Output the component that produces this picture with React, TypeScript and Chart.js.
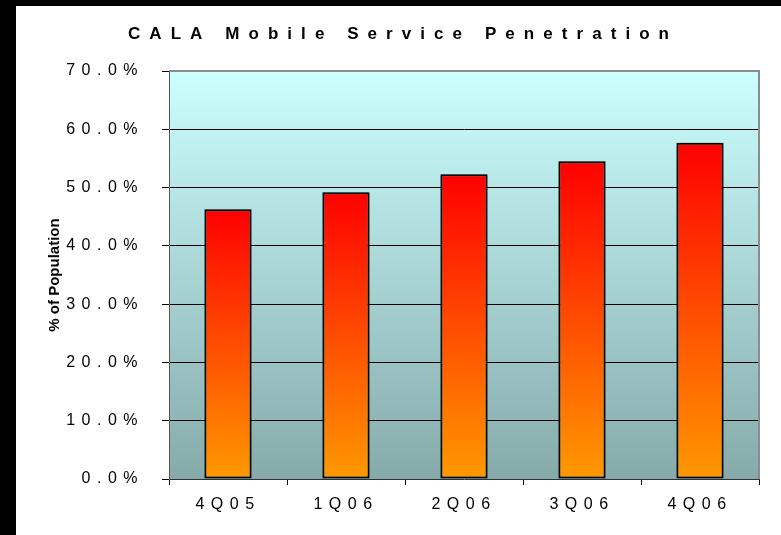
import { useEffect, useRef } from 'react';
import { Chart, registerables } from 'chart.js';

Chart.register(...registerables);

const categories = ['4Q05', '1Q06', '2Q06', '3Q06', '4Q06'];
const penetration = [46.3, 49.2, 52.3, 54.5, 57.7];
const chartTitle = 'CALA Mobile Service Penetration';
const yAxisTitle = '% of Population';
const yMin = 0;
const yMax = 70;
const yStep = 10;

const W = 781;
const H = 535;
const FONT = '"Liberation Sans", Arial, sans-serif';
const TICK_SPACING = 6.5;

export default function App() {
  const ref = useRef<HTMLCanvasElement | null>(null);

  useEffect(() => {
    const canvas = ref.current;
    if (!canvas) return;

    const decor = {
      id: 'decor',
      beforeDraw(chart: any) {
        const { ctx, chartArea: a } = chart;
        ctx.save();
        const g = ctx.createLinearGradient(0, a.top, 0, a.bottom);
        g.addColorStop(0, '#CCFFFF');
        g.addColorStop(1, '#86AAAA');
        ctx.fillStyle = g;
        ctx.fillRect(a.left, a.top, a.right - a.left, a.bottom - a.top);
        ctx.restore();
        ctx.letterSpacing = TICK_SPACING + 'px';
      },
      beforeDatasetsDraw(chart: any) {
        const { ctx } = chart;
        ctx.save();
        ctx.shadowColor = 'rgba(40,60,60,0.45)';
        ctx.shadowBlur = 3;
        ctx.shadowOffsetX = 0;
        ctx.shadowOffsetY = 0;
      },
      afterDatasetsDraw(chart: any) {
        const { ctx, chartArea: a } = chart;
        ctx.restore();
        ctx.save();
        ctx.letterSpacing = '0px';
        ctx.strokeStyle = '#8C8C8C';
        ctx.lineWidth = 2;
        ctx.beginPath();
        ctx.moveTo(a.left, a.top);
        ctx.lineTo(a.right, a.top);
        ctx.lineTo(a.right, a.bottom);
        ctx.stroke();
        ctx.restore();
      },
      afterDraw(chart: any) {
        const { ctx, chartArea: a } = chart;
        ctx.save();
        ctx.letterSpacing = '0px';
        ctx.fillStyle = '#000';
        ctx.font = 'bold 17px ' + FONT;
        const plain = ctx.measureText(chartTitle).width;
        const targetWidth = 541;
        const sp = (targetWidth - plain) / (chartTitle.length - 1);
        ctx.letterSpacing = sp + 'px';
        ctx.textAlign = 'left';
        ctx.textBaseline = 'middle';
        ctx.fillText(chartTitle, 128, 34);
        ctx.letterSpacing = '0px';
        ctx.font = 'bold 15px ' + FONT;
        ctx.translate(55, (a.top + a.bottom) / 2);
        ctx.rotate(-Math.PI / 2);
        ctx.textAlign = 'center';
        ctx.fillText(yAxisTitle, 0, 0);
        ctx.restore();
        ctx.letterSpacing = '0px';
      },
    };

    const chart = new Chart(canvas, {
      type: 'bar',
      data: {
        labels: categories,
        datasets: [
          {
            data: penetration,
            backgroundColor: (c: any) => {
              const ch = c.chart;
              const y = ch.scales && ch.scales.y;
              if (!y || c.raw == null) return '#FF5000';
              const top = y.getPixelForValue(c.raw);
              const bottom = y.getPixelForValue(0);
              if (!isFinite(top) || !isFinite(bottom)) return '#FF5000';
              const g = ch.ctx.createLinearGradient(0, top, 0, bottom);
              g.addColorStop(0, '#FF0000');
              g.addColorStop(0.5, '#FF4C00');
              g.addColorStop(1, '#FF9900');
              return g;
            },
            borderColor: '#000',
            borderWidth: 2,
            borderSkipped: false,
            barPercentage: 0.4,
            categoryPercentage: 1,
          },
        ],
      },
      options: {
        responsive: false,
        animation: false,
        layout: { padding: { left: 0, top: 71, right: 22, bottom: 0 } },
        plugins: {
          legend: { display: false },
          title: { display: false },
          tooltip: { enabled: false },
        },
        scales: {
          x: {
            afterFit: (s: any) => {
              s.height = 56;
            },
            grid: {
              display: true,
              offset: true,
              color: 'transparent',
              tickColor: '#000',
              tickLength: 6,
              tickWidth: 1,
            },
            border: { display: true, color: '#333', width: 1 },
            ticks: {
              color: '#000',
              font: { family: FONT, size: 16 },
              padding: 10,
            },
          },
          y: {
            min: yMin,
            max: yMax,
            afterFit: (s: any) => {
              s.width = 169;
            },
            grid: {
              color: (c: any) =>
                c.tick && (c.tick.value === yMin || c.tick.value === yMax) ? 'transparent' : '#000',
              tickColor: '#000',
              tickLength: 7,
              lineWidth: 1,
            },
            border: { display: true, color: '#555', width: 1 },
            ticks: {
              stepSize: yStep,
              color: '#000',
              font: { family: FONT, size: 16 },
              padding: 18,
              callback: (v: any) => Number(v).toFixed(1) + '%',
            },
          },
        },
      },
      plugins: [decor],
    });

    return () => chart.destroy();
  }, []);

  return (
    <div
      style={{
        position: 'fixed',
        left: 0,
        top: 0,
        width: W,
        height: H,
        background: '#fff',
        overflow: 'hidden',
      }}
    >
      <div style={{ position: 'absolute', left: 0, top: 0, width: 16, height: H, background: '#000' }} />
      <div style={{ position: 'absolute', left: 0, top: 0, width: W, height: 6, background: '#000' }} />
      <canvas ref={ref} width={W} height={H} style={{ position: 'absolute', left: 0, top: 0 }} />
    </div>
  );
}
